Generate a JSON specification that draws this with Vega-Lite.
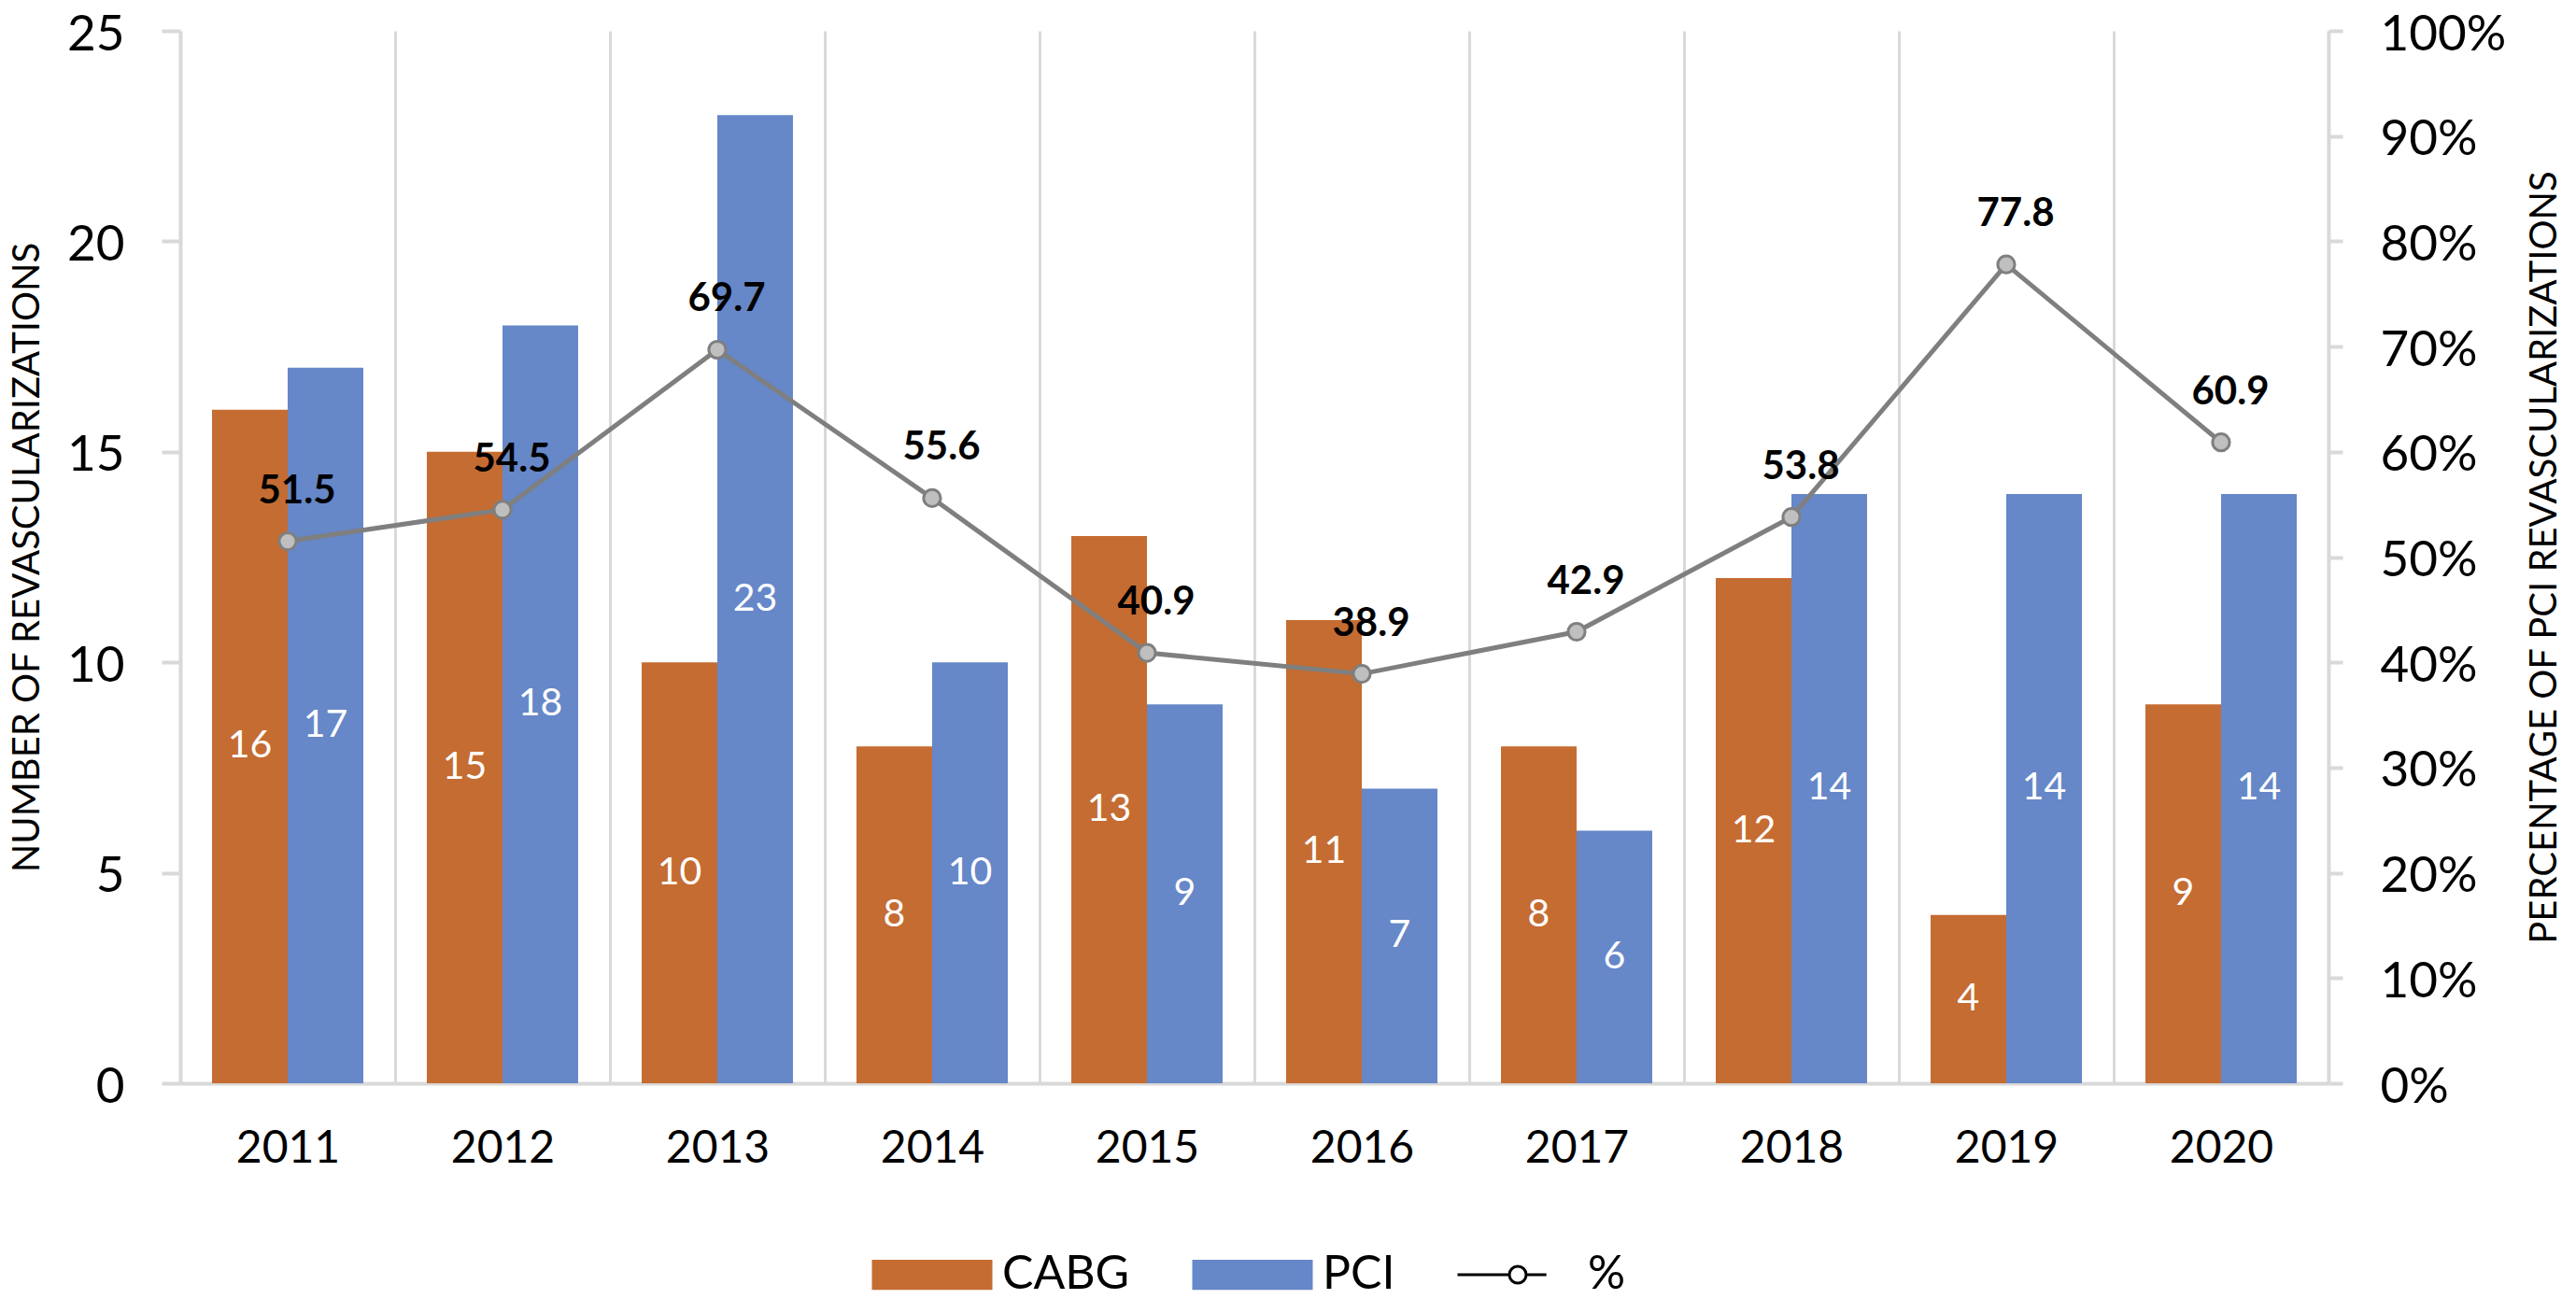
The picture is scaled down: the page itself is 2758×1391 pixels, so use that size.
{
  "$schema": "https://vega.github.io/schema/vega-lite/v6.json",
  "width": 2300,
  "height": 1127,
  "autosize": {"type": "none"},
  "padding": {"left": 193, "top": 33, "right": 265, "bottom": 231},
  "background": "white",
  "config": {
    "view": {"stroke": null},
    "font": "Lato",
    "axis": {"labelFont": "Lato", "titleFont": "Lato", "labelColor": "#000000", "titleColor": "#000000", "titleFontWeight": "normal"}
  },
  "datasets": {
    "bars": [
      {"year": "2011", "series": "CABG", "value": 16},
      {"year": "2011", "series": "PCI", "value": 17},
      {"year": "2012", "series": "CABG", "value": 15},
      {"year": "2012", "series": "PCI", "value": 18},
      {"year": "2013", "series": "CABG", "value": 10},
      {"year": "2013", "series": "PCI", "value": 23},
      {"year": "2014", "series": "CABG", "value": 8},
      {"year": "2014", "series": "PCI", "value": 10},
      {"year": "2015", "series": "CABG", "value": 13},
      {"year": "2015", "series": "PCI", "value": 9},
      {"year": "2016", "series": "CABG", "value": 11},
      {"year": "2016", "series": "PCI", "value": 7},
      {"year": "2017", "series": "CABG", "value": 8},
      {"year": "2017", "series": "PCI", "value": 6},
      {"year": "2018", "series": "CABG", "value": 12},
      {"year": "2018", "series": "PCI", "value": 14},
      {"year": "2019", "series": "CABG", "value": 4},
      {"year": "2019", "series": "PCI", "value": 14},
      {"year": "2020", "series": "CABG", "value": 9},
      {"year": "2020", "series": "PCI", "value": 14}
    ],
    "pct": [
      {"year": "2011", "pct": 51.5},
      {"year": "2012", "pct": 54.5},
      {"year": "2013", "pct": 69.7},
      {"year": "2014", "pct": 55.6},
      {"year": "2015", "pct": 40.9},
      {"year": "2016", "pct": 38.9},
      {"year": "2017", "pct": 42.9},
      {"year": "2018", "pct": 53.8},
      {"year": "2019", "pct": 77.8},
      {"year": "2020", "pct": 60.9}
    ]
  },
  "layer": [
    {
      "data": {"name": "bars"},
      "layer": [
        {
          "mark": {"type": "bar"},
          "encoding": {
            "x": {
              "field": "year", "type": "nominal",
              "scale": {"paddingInner": 0, "paddingOuter": 0},
              "axis": {
                "title": null, "labelAngle": 0, "labelFontSize": 48, "labelPadding": 46,
                "ticks": false, "tickSize": 0, "tickBand": "extent",
                "grid": true, "gridColor": "#D9D9D9", "gridWidth": 3,
                "domainColor": "#D9D9D9", "domainWidth": 4
              }
            },
            "xOffset": {
              "field": "series", "type": "nominal",
              "scale": {"domain": ["CABG", "PCI"], "paddingInner": 0, "paddingOuter": 0.42}
            },
            "y": {
              "field": "value", "type": "quantitative",
              "scale": {"domain": [0, 25], "nice": false},
              "axis": {
                "title": "NUMBER OF REVASCULARIZATIONS", "titleFontSize": 40, "titlePadding": 22,
                "values": [0, 5, 10, 15, 20, 25], "grid": false,
                "labelFontSize": 53, "labelPadding": 40, "labelOffset": 4,
                "tickSize": 20, "tickColor": "#D9D9D9", "tickWidth": 4,
                "domainColor": "#D9D9D9", "domainWidth": 4
              }
            },
            "color": {
              "field": "series", "type": "nominal",
              "scale": {"domain": ["CABG", "PCI", "%"], "range": ["#C56C32", "#6687C8", "#FFFFFF"]},
              "legend": {
                "orient": "none", "legendX": 739, "legendY": 1298, "direction": "horizontal",
                "title": null, "symbolSize": 4160, "symbolOffset": 32, "labelOffset": 41,
                "labelFontSize": 50, "labelFont": "Lato", "labelColor": "#000000",
                "columnPadding": 60, "labelLimit": 400,
                "encode": {
                  "symbols": {
                    "update": {
                      "shape": {"signal": "datum.value === '%' ? 'M-2,0H-0.28M0.28,0H0.95M-0.28,0A0.28,0.28 0 1,1 0.28,0A0.28,0.28 0 1,1 -0.28,0Z' : 'M-2,-0.5H2V0.5H-2Z'"},
                      "fill": {"signal": "datum.value === '%' ? '#FFFFFF' : scale('color', datum.value)"},
                      "stroke": {"signal": "datum.value === '%' ? '#000000' : 'transparent'"},
                      "strokeWidth": {"value": 3},
                      "fillOpacity": {"value": 1},
                      "opacity": {"value": 1}
                    }
                  }
                }
              }
            }
          }
        },
        {
          "transform": [{"calculate": "datum.value / 2", "as": "mid"}],
          "mark": {"type": "text", "color": "#FFFFFF", "fontSize": 41, "font": "Lato", "baseline": "middle", "align": "center"},
          "encoding": {
            "x": {"field": "year", "type": "nominal"},
            "xOffset": {"field": "series", "type": "nominal"},
            "y": {"field": "mid", "type": "quantitative"},
            "text": {"field": "value", "type": "quantitative"}
          }
        }
      ]
    },
    {
      "data": {"name": "pct"},
      "layer": [
        {
          "mark": {"type": "line", "color": "#7F7F7F", "strokeWidth": 5},
          "encoding": {
            "x": {"field": "year", "type": "nominal"},
            "y": {
              "field": "pct", "type": "quantitative",
              "scale": {"domain": [0, 100], "nice": false},
              "axis": {
                "orient": "right",
                "title": "PERCENTAGE OF PCI REVASCULARIZATIONS", "titleFontSize": 40,
                "titleAngle": 270, "titleBaseline": "top", "titlePadding": 22,
                "values": [0, 10, 20, 30, 40, 50, 60, 70, 80, 90, 100],
                "labelExpr": "datum.value + '%'", "grid": false,
                "labelFontSize": 53, "labelPadding": 40, "labelOffset": 4,
                "tickSize": 15, "tickColor": "#D9D9D9", "tickWidth": 4,
                "domainColor": "#D9D9D9", "domainWidth": 4
              }
            }
          }
        },
        {
          "mark": {"type": "circle", "size": 330, "color": "#BFBFBF", "stroke": "#7F7F7F", "strokeWidth": 3, "opacity": 1},
          "encoding": {
            "x": {"field": "year", "type": "nominal"},
            "y": {"field": "pct", "type": "quantitative"}
          }
        },
        {
          "mark": {"type": "text", "color": "#000000", "fontSize": 42, "fontWeight": "bold", "font": "Lato", "dy": -54, "dx": 10, "baseline": "middle", "align": "center"},
          "encoding": {
            "x": {"field": "year", "type": "nominal"},
            "y": {"field": "pct", "type": "quantitative"},
            "text": {"field": "pct", "type": "quantitative", "format": ".1f"}
          }
        }
      ]
    }
  ],
  "resolve": {"scale": {"y": "independent"}}
}
